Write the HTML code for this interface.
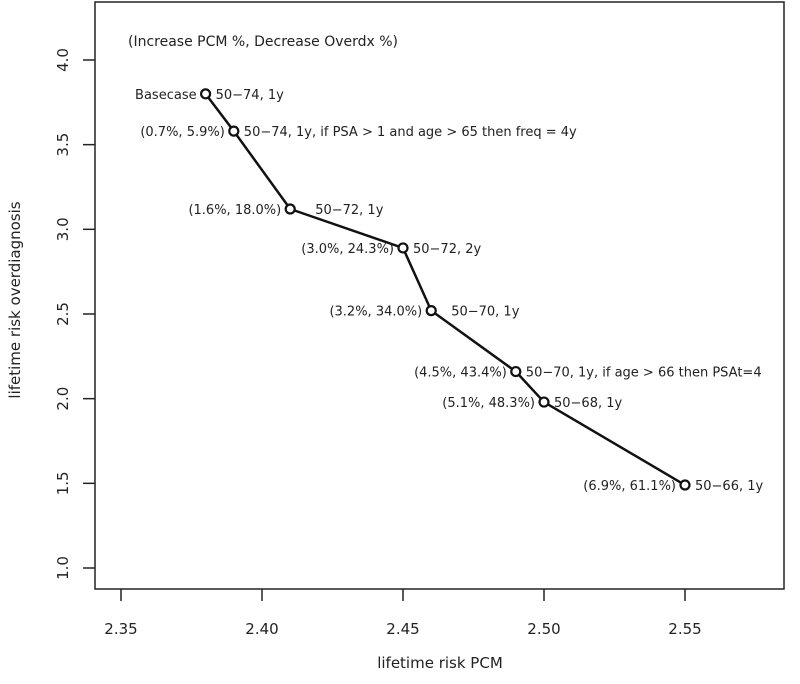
<!DOCTYPE html>
<html><head><meta charset="utf-8"><style>
body{margin:0;background:#fff;}
svg{display:block;font-family:"DejaVu Sans","Liberation Sans",sans-serif;}
</style></head><body>
<svg id="chart" width="800" height="684" viewBox="0 0 800 684">
<rect x="95" y="2" width="689" height="587" fill="none" stroke="#222" stroke-width="1.5"/>
<g id="axes"></g>
<g id="series"></g>
<text x="128" y="46" font-size="14" fill="#222">(Increase PCM %, Decrease Overdx %)</text>
<text x="440" y="668" font-size="15" fill="#222" text-anchor="middle">lifetime risk PCM</text>
<text transform="translate(20,300) rotate(-90)" font-size="15" fill="#222" text-anchor="middle">lifetime risk overdiagnosis</text>
</svg>
<script>
const xTicks=[2.35,2.40,2.45,2.50,2.55];
const yTicks=[1.0,1.5,2.0,2.5,3.0,3.5,4.0];
const pcm=[2.38,2.39,2.41,2.45,2.46,2.49,2.50,2.55];
const overdx=[3.80,3.58,3.12,2.89,2.52,2.16,1.98,1.49];
const leftLabels=["Basecase","(0.7%, 5.9%)","(1.6%, 18.0%)","(3.0%, 24.3%)","(3.2%, 34.0%)","(4.5%, 43.4%)","(5.1%, 48.3%)","(6.9%, 61.1%)"];
const rightLabels=["50\u221274, 1y","50\u221274, 1y, if PSA > 1 and age > 65 then freq = 4y","50\u221272, 1y","50\u221272, 2y","50\u221270, 1y","50\u221270, 1y, if age > 66 then PSAt=4","50\u221268, 1y","50\u221266, 1y"];
const rightOffset=[10,10,25,10,20,10,10,10];
const NS="http://www.w3.org/2000/svg";
const sx=v=>121+(v-2.35)/0.05*141;
const sy=v=>568-(v-1.0)/0.5*84.67;
function mk(tag,attrs,parent,text){const e=document.createElementNS(NS,tag);for(const k in attrs)e.setAttribute(k,attrs[k]);if(text!==undefined)e.textContent=text;parent.appendChild(e);return e;}
const ax=document.getElementById('axes'), se=document.getElementById('series');
xTicks.forEach(t=>{
  const l=mk('line',{x1:sx(t),x2:sx(t),y1:589,y2:601,stroke:'#222','stroke-width':1.5},ax);
  
  
  const tx=mk('text',{x:sx(t),y:634,'font-size':15,'text-anchor':'middle',fill:'#222'},ax,t.toFixed(2));
  
  
});
yTicks.forEach(t=>{
  const l=mk('line',{x1:83,x2:95,y1:sy(t),y2:sy(t),stroke:'#222','stroke-width':1.5},ax);
  
  
  const tx=mk('text',{transform:`translate(68,${sy(t)}) rotate(-90)`,'font-size':15,'text-anchor':'middle',fill:'#222'},ax,t.toFixed(1));
  
  
});
const pl=mk('polyline',{points:pcm.map((v,i)=>sx(v)+','+sy(overdx[i])).join(' '),fill:'none',stroke:'#111','stroke-width':2.5},se);


pcm.forEach((v,i)=>{
  const x=sx(v),y=sy(overdx[i]);
  const c=mk('circle',{cx:x,cy:y,r:4.5,fill:'#fff',stroke:'#111','stroke-width':2.2},se);
  
  
  const a=mk('text',{x:x-9,y:y+5,'font-size':13,'text-anchor':'end',fill:'#222'},se,leftLabels[i]);
  
  
  const b=mk('text',{x:x+rightOffset[i],y:y+5,'font-size':13,fill:'#222'},se,rightLabels[i]);
  
  
});
</script>
</body></html>
